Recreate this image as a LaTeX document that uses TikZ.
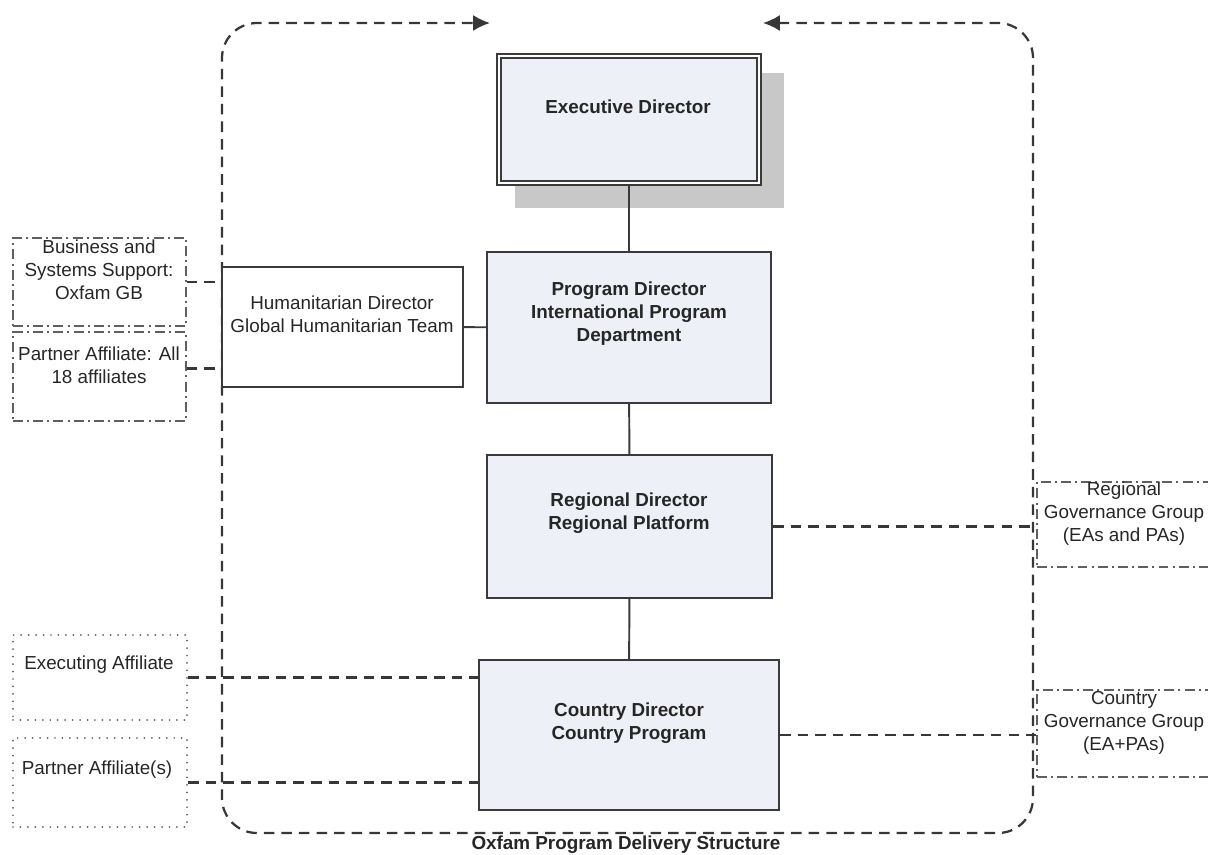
\documentclass[tikz,border=0pt]{standalone}
\usepackage{fontspec}
\setmainfont{Liberation Sans}
\usetikzlibrary{arrows.meta,fit}

\definecolor{boxfill}{RGB}{237,240,246}
\definecolor{boxline}{RGB}{58,58,58}
\definecolor{shadowgray}{RGB}{200,200,200}
\definecolor{linkgray}{RGB}{55,55,55}
\definecolor{sidegray}{RGB}{95,95,95}
\newcommand\chartfont{\fontsize{13.4}{16.4}\selectfont}

\begin{document}
\begin{tikzpicture}[x=0.025cm, y=-0.025cm,
	box/.style={draw=boxline, line width=1.4pt, fill=boxfill, inner sep=0pt},
	plainbox/.style={draw=boxline, line width=1.4pt, fill=white, inner sep=0pt},
	dashdotbox/.style={draw=sidegray, line width=1.1pt, dash pattern=on 7pt off 3pt on 1.4pt off 3pt, inner sep=0pt},
	dotbox/.style={draw=sidegray, line width=1.4pt, dash pattern=on 0pt off 5.3pt, line cap=round, inner sep=0pt},
	txt/.style={align=center, text=black!85, inner sep=0pt, font=\chartfont},
	boldtxt/.style={txt, font=\chartfont\bfseries},
	tie/.style={draw=boxline, line width=1.4pt},
	link/.style={draw=linkgray, line width=1.6pt, dash pattern=on 7.5pt off 5pt}]
	\clip (0,0) rectangle (1208,854);
	
	%Frame round the delivery structure
	\draw[link, rounded corners=0.875cm, {Latex[length=0.42cm,width=0.4cm]}-{Latex[length=0.42cm,width=0.4cm]}]
		(763,23) -- (1033,23) -- (1033,833) -- (222,833) -- (222,23) -- (490,23);
	
	%Executive Director
	\fill[shadowgray] (515,73) rectangle (784,208);
	\node[box, line width=1.2pt, double=white, double distance=2.1pt, fit={(499,56) (759,183)}] (exec) {};
	\node[boldtxt] (execT) at (628,107) {Executive Director};
	
	%Program Director
	\node[box, fit={(487,252) (771,403)}] (prog) {};
	\node[boldtxt] (progT) at (629,314) {Program Director\\International Program\\Department};
	
	%Humanitarian Director
	\node[plainbox, fit={(222,267) (463,387)}] (hum) {};
	\node[txt] (humT) at (342,314) {Humanitarian Director\\Global Humanitarian Team};
	
	%Regional Director
	\node[box, fit={(487,455) (772,598)}] (reg) {};
	\node[boldtxt] (regT) at (629,513) {Regional Director\\Regional Platform};
	
	%Country Director
	\node[box, fit={(479,660) (779,810)}] (ctry) {};
	\node[boldtxt] (ctryT) at (629,723) {Country Director\\Country Program};
	
	%Support and affiliates, left
	\node[dashdotbox, fit={(13,238) (186,326)}] (bss) {};
	\node[txt] (bssT) at (99,270) {Business and\\Systems Support:\\Oxfam GB};
	\node[dashdotbox, fit={(13,332) (186,421)}] (pall) {};
	\node[txt] (pallT) at (99,365) {Partner Affiliate: All\\18 affiliates};
	\node[dotbox, fit={(13,635) (187,720)}] (exa) {};
	\node[txt] (exaT) at (99,665) {Executing Affiliate};
	\node[dotbox, fit={(13,738) (187,827)}] (pas) {};
	\node[txt] (pasT) at (97,770) {Partner Affiliate(s)};
	
	%Governance groups, right
	\node[dashdotbox, fit={(1037,482) (1214,567)}] (rgg) {};
	\node[txt] (rggT) at (1124,514) {Regional\\Governance Group\\(EAs and PAs)};
	\node[dashdotbox, fit={(1037,690) (1214,777)}] (cgg) {};
	\node[txt] (cggT) at (1124,723) {Country\\Governance Group\\(EA+PAs)};
	
	%Line of command
	\draw[tie] (exec) -- (prog);
	\draw[tie] (prog) -- (reg);
	\draw[tie] (reg) -- (ctry);
	\draw[tie] (hum) -- (prog);
	
	%Dashed links
	\draw[link] (bss.east) -- (bss.east -| hum.west);
	\draw[link] ([yshift=0.2cm]pall.east) -- ([yshift=0.2cm]pall.east -| hum.west);
	\draw[link] (exa.east) -- (exa.east -| ctry.west);
	\draw[link] (pas.east) -- (pas.east -| ctry.west);
	\draw[link] (reg.east) -- (reg.east -| rgg.west);
	\draw[link] (ctry.east) -- (ctry.east -| cgg.west);
	
	\node[boldtxt] (title) at (626,845) {Oxfam Program Delivery Structure};
\end{tikzpicture}
\end{document}
